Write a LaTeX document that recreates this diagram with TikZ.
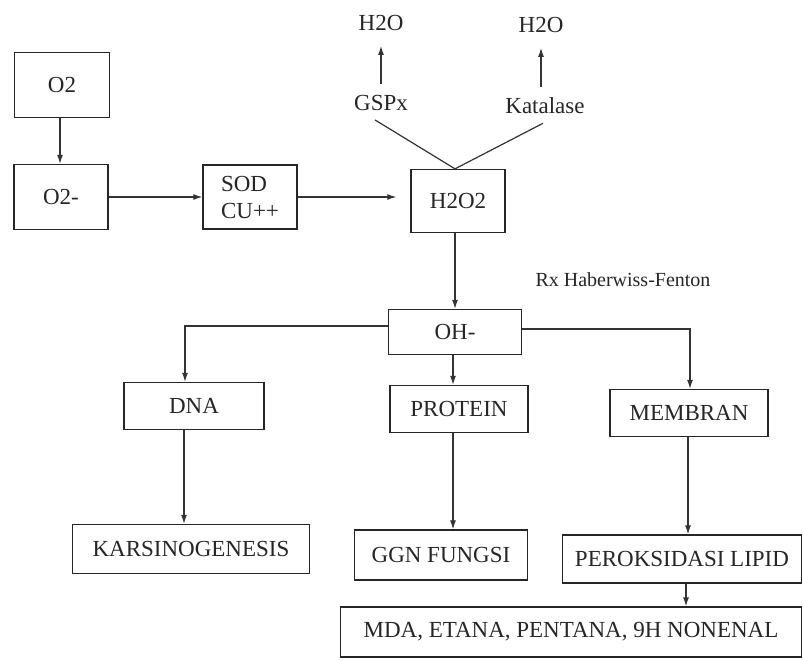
\documentclass[tikz,border=0pt]{standalone}
\usepackage{fontspec}
\setmainfont{Liberation Serif}
\usetikzlibrary{arrows.meta}
\begin{document}
\begin{tikzpicture}[x=1pt,y=-1pt,
  every node/.style={font=\fontsize{23}{27}\selectfont, text=black!85},
  box/.style={draw=black!85, line width=1.3pt, inner sep=2pt},
  lbl/.style={inner sep=1pt},
  arr/.style={draw=black!80, line width=1.2pt, -{Latex[length=9pt,width=6pt]}},
  ln/.style={draw=black!80, line width=1.2pt}]
\useasboundingbox[fill=white] (0,0) rectangle (803,661);
% boxes
\node[box, minimum width=95, minimum height=65] (o2) at (62,85) {O2};
\node[box, minimum width=94, minimum height=65] (o2m) at (61,197) {O2-};
\node[box, minimum width=94, minimum height=64, align=left] (sod) at (250,197) {SOD\\CU++};
\node[box, minimum width=94, minimum height=63] (h2o2) at (458,201) {H2O2};
\node[box, minimum width=133, minimum height=45] (ohm) at (455,332) {OH-};
\node[box, minimum width=140, minimum height=47] (dna) at (194,406) {DNA};
\node[box, minimum width=138, minimum height=47] (protein) at (459,409) {PROTEIN};
\node[box, minimum width=158, minimum height=47] (membran) at (689,413) {MEMBRAN};
\node[box, minimum width=237, minimum height=49] (karsi) at (191,549) {KARSINOGENESIS};
\node[box, minimum width=173, minimum height=50] (ggn) at (441,555) {GGN FUNGSI};
\node[box, minimum width=239, minimum height=48] (perok) at (682,559) {PEROKSIDASI LIPID};
\node[box, minimum width=461, minimum height=50] (mda) at (571,632) {MDA, ETANA, PENTANA, 9H NONENAL};
% plain labels
\node[lbl] (gspx) at (381,103) {GSPx};
\node[lbl] (kat) at (545,106) {Katalase};
\node[lbl] (w1) at (381,23) {H2O};
\node[lbl] (w2) at (541,25) {H2O};
\node[lbl, font=\fontsize{20}{24}\selectfont] (rx) at (623,280) {Rx Haberwiss-Fenton};
% connectors
\draw[arr] ([yshift=10pt]gspx.north) -- ([yshift=-14pt]w1.south);
\draw[arr] ([yshift=10pt]w2.south |- kat.north) -- ([yshift=-14pt]w2.south);
\draw[ln] ([xshift=-6pt,yshift=-8pt]gspx.south) -- ([xshift=-3pt]h2o2.north);
\draw[ln] ([xshift=-2pt,yshift=-8pt]kat.south) -- ([xshift=-3pt]h2o2.north);
\draw[arr] ([xshift=-2pt]o2.south) -- ([xshift=-1pt]o2m.north);
\draw[arr] (o2m.east) -- (sod.west);
\draw[arr, shorten >=14pt] (sod.east) -- ([yshift=4pt]h2o2.west);
\draw[arr] ([xshift=-3pt]h2o2.south) -- ([xshift=-3pt]h2o2.south |- ohm.north);
\draw[arr] ([yshift=6pt]ohm.west) -| ([xshift=-9pt]dna.north);
\draw[arr] ([xshift=-2pt]ohm.south) -- ([xshift=-2pt]ohm.south |- protein.north);
\draw[arr] ([yshift=3pt]ohm.east) -| ([xshift=1pt]membran.north);
\draw[arr] ([xshift=-10pt]dna.south) -- ([xshift=-10pt]dna.south |- karsi.north);
\draw[arr] ([xshift=-6pt]protein.south) -- ([xshift=-6pt]protein.south |- ggn.north);
\draw[arr] ([xshift=-1pt]membran.south) -- ([xshift=-1pt]membran.south |- perok.north);
\draw[arr] ([xshift=4pt]perok.south) -- ([xshift=4pt]perok.south |- mda.north);
\end{tikzpicture}
\end{document}
